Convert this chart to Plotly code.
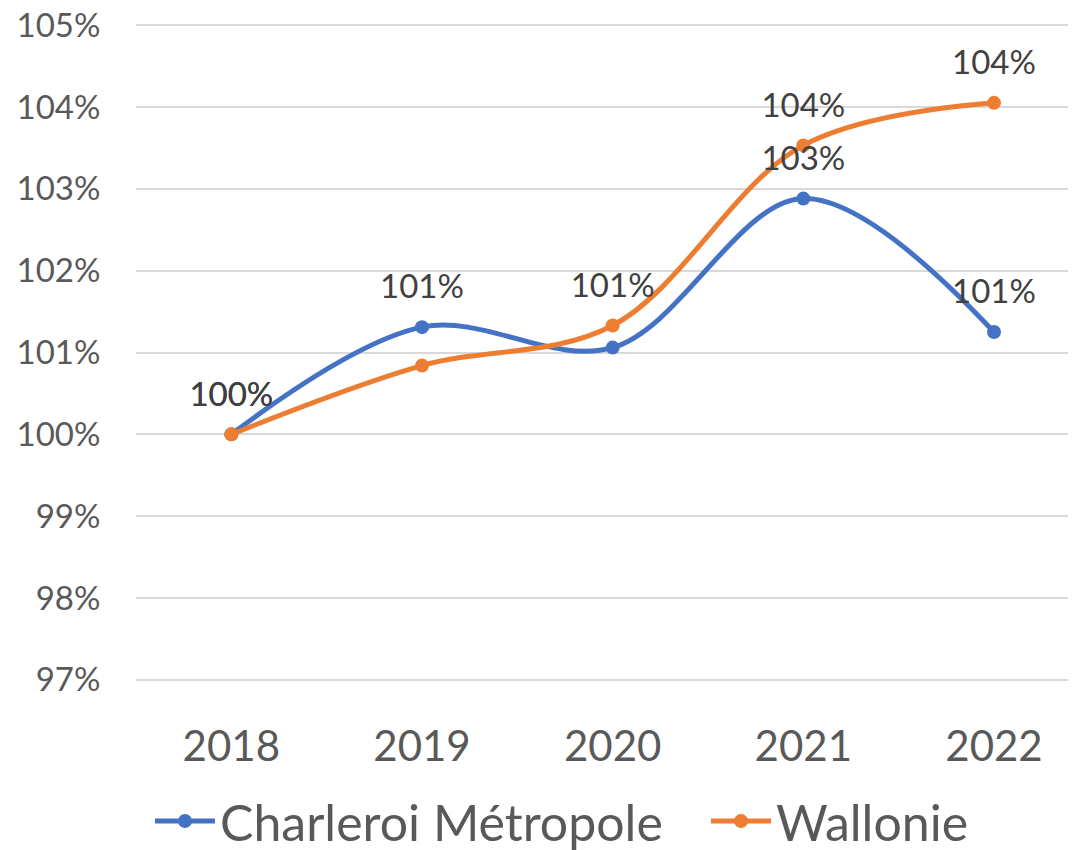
import plotly.graph_objects as go

years = ["2018", "2019", "2020", "2021", "2022"]
charleroi = [1.000, 1.0131, 1.0106, 1.0288, 1.0125]
wallonie = [1.000, 1.0084, 1.0133, 1.0353, 1.0405]
charleroi_labels = ["100%", "101%", "", "103%", "101%"]
wallonie_labels = ["100%", "", "101%", "104%", "104%"]
y_ticks = [0.97, 0.98, 0.99, 1.00, 1.01, 1.02, 1.03, 1.04, 1.05]
y_ticktext = ["97%", "98%", "99%", "100%", "101%", "102%", "103%", "104%", "105%"]

BLUE = "#4472C4"
ORANGE = "#ED7D31"
FONT = "Lato"

# page body has an 8px margin; the figure is sized to fill the rest of the window
FIG_W, FIG_H = 1068, 842
M_L, M_R, M_T, M_B = 128, 0, 13, 166
Y_RANGE = [0.9695, 1.0505]
plot_w = FIG_W - M_L - M_R
plot_h = FIG_H - M_T - M_B
label_shift = 37 * (Y_RANGE[1] - Y_RANGE[0]) / plot_h  # ~37 px above each point

fig = go.Figure()
for name, vals, color, leg in (("Charleroi Métropole", charleroi, BLUE, "legend"),
                               ("Wallonie", wallonie, ORANGE, "legend2")):
    fig.add_trace(go.Scatter(
        x=years, y=vals, name=name, mode="lines+markers", legend=leg,
        line=dict(color=color, width=5, shape="spline", smoothing=1.0),
        marker=dict(size=14, color=color),
    ))
for vals, labels in ((charleroi, charleroi_labels), (wallonie, wallonie_labels)):
    fig.add_trace(go.Scatter(
        x=years, y=[v + label_shift for v in vals], text=labels, mode="text",
        textposition="middle center", showlegend=False, hoverinfo="skip",
        textfont=dict(family=FONT, size=33, color="#404040"), cliponaxis=False,
    ))

legend_y = -(813 - (FIG_H - M_B)) / plot_h
legend_common = dict(orientation="h", xanchor="left", y=legend_y, yanchor="middle",
                     font=dict(family=FONT, size=50, color="#595959"), itemwidth=60,
                     bgcolor="rgba(0,0,0,0)")
fig.update_layout(
    width=FIG_W, height=FIG_H,
    margin=dict(l=M_L, r=M_R, t=M_T, b=M_B, autoexpand=False),
    paper_bgcolor="white", plot_bgcolor="white",
    font=dict(family=FONT, color="#595959"),
    showlegend=True,
    legend=dict(x=(142 - M_L) / plot_w, **legend_common),
    legend2=dict(x=(698 - M_L) / plot_w, **legend_common),
)
fig.update_xaxes(type="category", range=[-0.5, 4.43], showgrid=False, zeroline=False,
                 showline=False, tickfont=dict(family=FONT, size=42, color="#595959"),
                 ticks="outside", ticklen=26, tickcolor="rgba(0,0,0,0)")
fig.update_yaxes(range=Y_RANGE, tickvals=y_ticks, ticktext=y_ticktext,
                 showgrid=True, gridcolor="#D9D9D9", gridwidth=1.5, zeroline=False,
                 showline=False, tickfont=dict(family=FONT, size=33, color="#595959"),
                 ticks="outside", ticklen=28, tickcolor="rgba(0,0,0,0)",
                 ticklabeloverflow="allow")

fig.write_html("out.html")
